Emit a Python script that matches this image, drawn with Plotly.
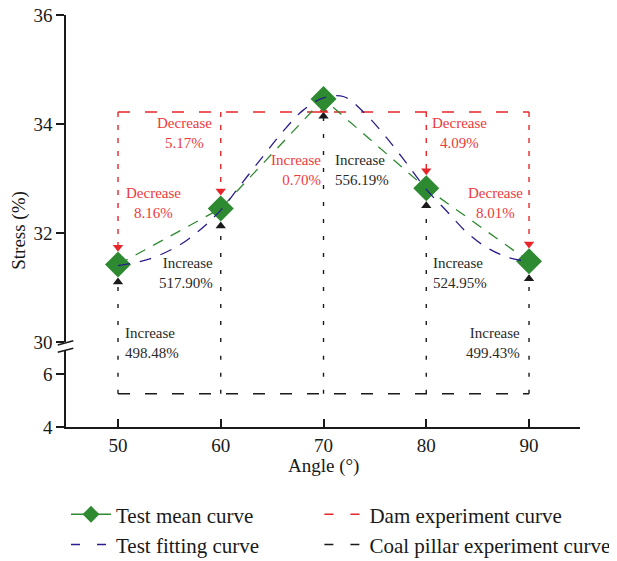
import plotly.graph_objects as go

# ---------------- data ----------------
angles = [50, 60, 70, 80, 90]
test_mean = [31.42, 32.45, 34.46, 32.82, 31.48]
dam_value = 34.22
coal_value = 5.25

fit_x = [50, 53, 56, 58, 60, 62, 64, 66, 68, 70, 72, 74, 76, 78, 80, 82, 84, 86, 88, 90]
fit_y = [31.40, 31.52, 31.78, 32.06, 32.42, 32.90, 33.38, 33.85, 34.25, 34.48,
         34.50, 34.20, 33.78, 33.30, 32.80, 32.40, 32.00, 31.72, 31.55, 31.47]

dam_labels = ["Decrease<br>8.16%", "Decrease<br>5.17%", "Increase<br>0.70%",
              "Decrease<br>4.09%", "Decrease<br>8.01%"]
coal_labels = ["Increase<br>498.48%", "Increase<br>517.90%", "Increase<br>556.19%",
               "Increase<br>524.95%", "Increase<br>499.43%"]

top_range = [30, 36]
bottom_range = [4, 6.9]
top_ticks = [30, 32, 34, 36]
bottom_ticks = [4, 6]
x_ticks = [50, 60, 70, 80, 90]

# ---------------- styles ----------------
GREEN = "#2e8a30"
BLUE = "#2a1d8c"
RED = "#e8262a"
RED_TXT = "#ee3a3c"
BLACK = "#1a1a1a"
FONT = "Liberation Serif"
GAP = 0.32
LEG_DASH = "9px,17px"

fig = go.Figure()

# dam experiment: horizontal + verticals with arrows
fig.add_trace(go.Scatter(x=[angles[0], angles[-1]], y=[dam_value, dam_value], mode="lines",
                         line=dict(color=RED, width=1.4, dash="12px,15px"),
                         showlegend=False, xaxis="x", yaxis="y"))
for a, m in zip(angles, test_mean):
    if m < dam_value:
        tip = m + GAP
        fig.add_trace(go.Scatter(x=[a, a], y=[dam_value, tip], mode="lines",
                                 line=dict(color=RED, width=1.4, dash="5px,8px"),
                                 showlegend=False, hoverinfo="skip", xaxis="x", yaxis="y"))
        fig.add_trace(go.Scatter(x=[a], y=[tip], mode="markers",
                                 marker=dict(symbol="triangle-down", size=9, color=RED),
                                 showlegend=False, hoverinfo="skip", xaxis="x", yaxis="y"))

# coal pillar: horizontal (bottom panel) + verticals crossing the break
fig.add_trace(go.Scatter(x=[angles[0], angles[-1]], y=[coal_value, coal_value], mode="lines",
                         line=dict(color=BLACK, width=1.4, dash="12px,15px"),
                         showlegend=False, xaxis="x", yaxis="y2"))
for a, m in zip(angles, test_mean):
    fig.add_trace(go.Scatter(x=[a, a], y=[coal_value, bottom_range[1]], mode="lines",
                             line=dict(color=BLACK, width=1.4, dash="4px,13px"),
                             showlegend=False, hoverinfo="skip", xaxis="x", yaxis="y2"))
    fig.add_trace(go.Scatter(x=[a, a], y=[top_range[0], m - GAP], mode="lines",
                             line=dict(color=BLACK, width=1.4, dash="4px,13px"),
                             showlegend=False, hoverinfo="skip", xaxis="x", yaxis="y"))
    fig.add_trace(go.Scatter(x=[a], y=[m - GAP], mode="markers",
                             marker=dict(symbol="triangle-up", size=9, color=BLACK),
                             showlegend=False, hoverinfo="skip", xaxis="x", yaxis="y"))
    if m >= dam_value:
        fig.add_trace(go.Scatter(x=[a], y=[dam_value + 0.03], mode="markers",
                                 marker=dict(symbol="triangle-up", size=9, color=RED),
                                 showlegend=False, hoverinfo="skip", xaxis="x", yaxis="y"))

# test mean curve
fig.add_trace(go.Scatter(x=angles, y=test_mean, mode="lines+markers",
                         line=dict(color=GREEN, width=1.3, dash="11px,9px"),
                         marker=dict(symbol="diamond", size=20, color=GREEN),
                         showlegend=False, xaxis="x", yaxis="y"))

# test fitting curve
fig.add_trace(go.Scatter(x=fit_x, y=fit_y, mode="lines", line_shape="spline",
                         line=dict(color=BLUE, width=1.3, dash="12px,10px"),
                         showlegend=False, xaxis="x", yaxis="y"))

# legend entries (two columns -> two legends)
legend_entries = [
    ("Test mean curve", GREEN, "solid", "lines+markers", "legend"),
    ("Test fitting curve", BLUE, LEG_DASH, "lines", "legend"),
    ("Dam experiment curve", RED, LEG_DASH, "lines", "legend2"),
    ("Coal pillar experiment curve", BLACK, LEG_DASH, "lines", "legend2"),
]
for name, col, dash, mode, leg in legend_entries:
    fig.add_trace(go.Scatter(x=[None], y=[None], mode=mode, name=name, legend=leg,
                             line=dict(color=col, width=1.5, dash=dash),
                             marker=dict(symbol="diamond", size=13, color=col),
                             xaxis="x", yaxis="y"))

# ---------------- annotations ----------------
ann_pos_dam = [(53.5, 0.5437, "center"), (56.5, 0.7136, "center"), (69.95, 0.6238, "right"),
               (83.2, 0.7136, "center"), (86.74, 0.5437, "center")]
ann_pos_coal = [(50.45, 0.2039, "left"), (59.45, 0.3738, "right"), (70.9, 0.6238, "left"),
                (80.5, 0.3738, "left"), (89.3, 0.2039, "right")]
annotations = []
for txt, (x, y, anc) in zip(dam_labels, ann_pos_dam):
    annotations.append(dict(text=txt, x=x, y=y, xref="x", yref="paper", xanchor=anc,
                            yanchor="middle", align=anc, showarrow=False,
                            font=dict(family=FONT, size=15, color=RED_TXT)))
for txt, (x, y, anc) in zip(coal_labels, ann_pos_coal):
    annotations.append(dict(text=txt, x=x, y=y, xref="x", yref="paper", xanchor=anc,
                            yanchor="middle", align=anc, showarrow=False,
                            font=dict(family=FONT, size=15, color="#2a2a2a")))
annotations.append(dict(text="Stress (%)", x=-0.092, y=0.478, xref="paper", yref="paper",
                        textangle=-90, showarrow=False, xanchor="center", yanchor="middle",
                        font=dict(family=FONT, size=19, color="#1a1a1a")))
annotations.append(dict(text="Angle (°)", x=70, y=-0.095, xref="x", yref="paper",
                        showarrow=False, xanchor="center", yanchor="middle",
                        font=dict(family=FONT, size=19, color="#1a1a1a")))

# break marks on the y axis
shapes = [
    dict(type="line", xref="paper", yref="paper", x0=-0.016, y0=0.199, x1=0.0142, y1=0.2095,
         line=dict(color=BLACK, width=1.5)),
    dict(type="line", xref="paper", yref="paper", x0=-0.016, y0=0.1813, x1=0.0142, y1=0.191,
         line=dict(color=BLACK, width=1.5)),
]

axis_common = dict(showline=True, linecolor=BLACK, linewidth=1.5,
                   ticklen=8, tickwidth=1.5, tickcolor=BLACK, showgrid=False, zeroline=False,
                   ticklabeloverflow="allow",
                   tickfont=dict(family=FONT, size=19, color="#1a1a1a"))

legend_common = dict(orientation="v", y=-0.163, xanchor="left", yanchor="top",
                     itemwidth=40, traceorder="normal",
                     font=dict(family=FONT, size=21, color="#1a1a1a"),
                     bgcolor="rgba(0,0,0,0)")

fig.update_layout(
    width=617, height=561,
    margin=dict(l=58, r=45, t=7, b=142, autoexpand=False),
    plot_bgcolor="white", paper_bgcolor="white",
    xaxis=dict(domain=[0, 1], anchor="y2", range=[44.94, 94.96], tickvals=x_ticks,
               ticks="inside", **axis_common),
    yaxis=dict(domain=[0.2063, 1], anchor="x", range=top_range, tickvals=top_ticks,
               ticks="outside", **axis_common),
    yaxis2=dict(domain=[0, 0.187], anchor="x", range=bottom_range, tickvals=bottom_ticks,
                ticks="outside", **axis_common),
    annotations=annotations,
    shapes=shapes,
    showlegend=True,
    legend=dict(x=0.0, **legend_common),
    legend2=dict(x=0.493, **legend_common),
)

fig.write_html("out.html")
